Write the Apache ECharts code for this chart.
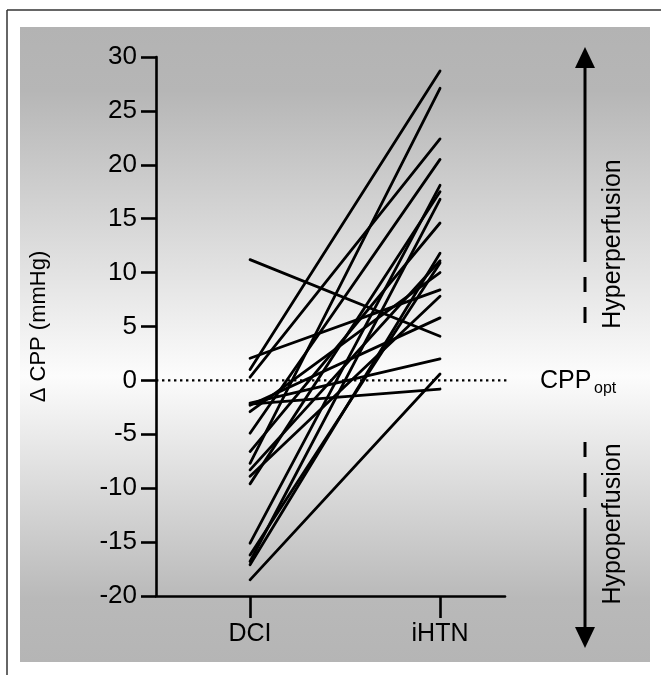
<!DOCTYPE html>
<html><head><meta charset="utf-8">
<script src="https://cdn.jsdelivr.net/npm/echarts@6/dist/echarts.min.js"></script>
<style>html,body{margin:0;padding:0;background:#fff}#c{width:661px;height:675px}</style>
</head><body><div id="c"></div>
<script>
// ---- data ----
const categories = ['DCI', 'iHTN'];
const dciValues  = [11.2, 2.05, 1.0, 0.3, -2.1, -2.2, -2.3, -2.9, -4.9, -6.6, -7.7, -8.3, -8.9, -9.6, -15.1, -16.2, -16.8, -17.1, -18.5];
const ihtnValues = [4.1, 8.4, 28.7, 22.4, 2.0, -0.8, 5.8, 10.0, 20.5, 14.6, 27.1, 11.1, 7.8, 17.5, 18.1, 10.9, 16.8, 11.8, 0.6];
const yMin = -20, yMax = 30, yStep = 5;
const refValue = 0;
const refLineX = [0.505, 2.5];
const refLabel = 'CPP';
const refSub = 'opt';
const upperLabel = 'Hyperperfusion';
const lowerLabel = 'Hypoperfusion';
const yName = 'Δ CPP (mmHg)';

const font = 'Liberation Sans, Arial, sans-serif';
const chart = echarts.init(document.getElementById('c'), null, {renderer: 'canvas'});

const series = dciValues.map((v, i) => ({
  type: 'line',
  data: [[1, v], [2, ihtnValues[i]]],
  symbol: 'none',
  silent: true,
  z: 3,
  lineStyle: {color: '#000', width: 2.8, cap: 'round'}
}));
series.push({
  type: 'line', clip: false, symbol: 'none', silent: true, z: 2,
  data: refLineX.map(x => [x, refValue]),
  lineStyle: {color: '#000', width: 2.4, type: [2.4, 3.6], cap: 'butt'}
});

const dash = (x, y1, y2) => ({type: 'line', z: 5, shape: {x1: x, y1: y1, x2: x, y2: y2}, style: {stroke: '#000', lineWidth: 3}});

chart.setOption({
  animation: false,
  backgroundColor: '#fff',
  grid: {left: 156, top: 57, width: 349, height: 539, containLabel: false},
  xAxis: {
    type: 'value', min: 0.505, max: 2.342,
    axisLine: {onZero: false, lineStyle: {color: '#000', width: 2.6}},
    axisTick: {show: true, customValues: [1, 2], length: 22, lineStyle: {color: '#000', width: 2.6}},
    axisLabel: {show: true, customValues: [1, 2], formatter: v => categories[Math.round(v) - 1],
      color: '#000', fontSize: 25, fontFamily: font, margin: 26},
    splitLine: {show: false}
  },
  yAxis: {
    type: 'value', min: yMin, max: yMax, interval: yStep,
    name: yName, nameLocation: 'middle', nameGap: 106,
    nameTextStyle: {color: '#000', fontSize: 22, fontFamily: font},
    axisLine: {show: true, lineStyle: {color: '#000', width: 2.6}},
    axisTick: {show: true, length: 15, lineStyle: {color: '#000', width: 2.6}},
    axisLabel: {color: '#000', fontSize: 26, fontFamily: font, margin: 19},
    splitLine: {show: false}
  },
  graphic: [
    {type: 'rect', z: -10, shape: {x: 20, y: 27, width: 630, height: 635},
     style: {fill: new echarts.graphic.LinearGradient(0, 0, 0, 1, [
       {offset: 0, color: '#b3b3b3'}, {offset: 0.1, color: '#b6b6b6'},
       {offset: 0.55, color: '#fcfcfc'}, {offset: 0.9, color: '#b9b9b9'}, {offset: 1, color: '#b5b5b5'}])}},
    {type: 'line', z: -9, shape: {x1: 7, y1: 10, x2: 661, y2: 10}, style: {stroke: '#333', lineWidth: 1.5}},
    {type: 'line', z: -9, shape: {x1: 7, y1: 10, x2: 7, y2: 675}, style: {stroke: '#333', lineWidth: 1.5}},
    // up arrow
    {type: 'polygon', z: 5, shape: {points: [[585, 47], [575, 68], [595, 68]]}, style: {fill: '#000'}},
    dash(585, 66, 262), dash(585, 277, 292), dash(585, 307, 323),
    // down arrow
    dash(585, 442, 457), dash(585, 473, 497), dash(585, 508, 630),
    {type: 'polygon', z: 5, shape: {points: [[585, 648], [575, 627], [595, 627]]}, style: {fill: '#000'}},
    {type: 'text', z: 5, x: 613, y: 244, rotation: Math.PI / 2,
     style: {text: upperLabel, fill: '#000', font: '25px ' + font, textAlign: 'center', textVerticalAlign: 'middle'}},
    {type: 'text', z: 5, x: 613, y: 524, rotation: Math.PI / 2,
     style: {text: lowerLabel, fill: '#000', font: '25px ' + font, textAlign: 'center', textVerticalAlign: 'middle'}},
    {type: 'text', z: 5, x: 540, y: 381,
     style: {text: refLabel, fill: '#000', font: '25px ' + font, textAlign: 'left', textVerticalAlign: 'middle'}},
    {type: 'text', z: 5, x: 594, y: 389,
     style: {text: refSub, fill: '#000', font: '16px ' + font, textAlign: 'left', textVerticalAlign: 'middle'}}
  ],
  series: series
});
</script></body></html>
